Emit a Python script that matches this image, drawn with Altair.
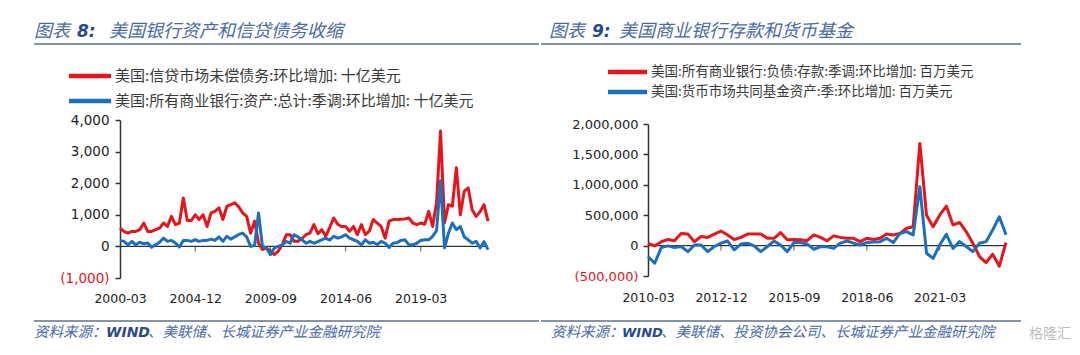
import altair as alt
import pandas as pd

# ---------------- data ----------------
# Left: quarterly, 2000-03 .. 2023-06 (billion USD, QoQ change)
left_red = [580, 475, 420, 475, 475, 530, 740, 475, 475, 530,
            580, 740, 630, 950, 690, 740, 1530, 820, 820, 1000,
            850, 1000, 630, 1060, 1110, 1220, 850, 1270, 1320, 1380,
            1250, 1060, 950, 420, 800, 100, -100, -50, -150, -260,
            -150, 50, 370, 370, 160, 160, 250, 370, 420, 690,
            400, 530, 320, 600, 900, 700, 630, 630, 480, 630,
            370, 690, 370, 480, 850, 740, 630, 260, 800, 850,
            850, 860, 870, 900, 740, 690, 740, 700, 1110, 630,
            1400, 3650, 750, 1320, 1270, 2490, 1000, 1750, 1850, 1160,
            950, 1100, 1320, 800]
left_blue = [190, 160, 50, 160, 50, 130, 85, 105, -30, 50,
             130, 265, 160, 190, 105, -20, 190, 190, 160, 210,
             160, 190, 190, 230, 190, 300, 160, 320, 230, 300,
             380, 420, 300, 0, 30, 1060, 0, -50, -260, -50,
             0, 50, 160, 100, 370, 300, 210, 100, 160, 100,
             150, 210, 260, 200, 320, 260, 300, 370, 260, 210,
             160, 50, 210, 100, 130, 60, 160, 100, -30, 100,
             120, 190, 210, 50, 50, 100, 190, 210, 210, 320,
             500, 2080, -50, 420, 740, 530, 630, 300, 210, 100,
             160, -50, 150, -100]

# Right: quarterly, 2010-03 .. 2023-09 (million USD, QoQ change)
right_red = [38000, -5000, 65000, 100000, 80000, 200000, 190000, 65000, 150000, 135000,
             190000, 240000, 175000, 100000, 135000, 190000, 190000, 190000, 120000, 120000,
             215000, 95000, 100000, 95000, 80000, 175000, 135000, 80000, 160000, 135000,
             120000, 120000, 65000, 120000, 100000, 120000, 190000, 175000, 200000, 285000,
             310000, 1680000, 500000, 310000, 500000, 650000, 340000, 380000, 230000, 40000,
             -180000, -280000, -140000, -340000, 50000]
right_blue = [-180000, -290000, -30000, -5000, -30000, -15000, -100000, 10000, 10000, -100000,
              -15000, 40000, 75000, -70000, 25000, 40000, -5000, -100000, -15000, 75000,
              10000, -100000, 50000, 50000, 25000, -60000, -20000, -20000, -45000, 40000,
              75000, 40000, 10000, 50000, 60000, 65000, 120000, 50000, 200000, 230000,
              175000, 970000, -125000, -210000, 10000, 185000, -45000, 65000, -15000, -100000,
              40000, 65000, 255000, 475000, 180000]

left_tick_labels = ["2000-03", "2004-12", "2009-09", "2014-06", "2019-03"]
right_tick_labels = ["2010-03", "2012-12", "2015-09", "2018-06", "2021-03"]
left_y_ticks = [-1000, 0, 1000, 2000, 3000, 4000]
right_y_ticks = [-500000, 0, 500000, 1000000, 1500000, 2000000]

left_title = ["图表", "8:", "美国银行资产和信贷债务收缩"]
right_title = ["图表", "9:", "美国商业银行存款和货币基金"]
left_legend = ["美国:信贷市场未偿债务:环比增加: 十亿美元",
               "美国:所有商业银行:资产:总计:季调:环比增加: 十亿美元"]
right_legend = ["美国:所有商业银行:负债:存款:季调:环比增加: 百万美元",
                "美国:货币市场共同基金资产:季:环比增加: 百万美元"]
left_source = ["资料来源：", "WIND", "、美联储、长城证券产业金融研究院"]
right_source = ["资料来源：", "WIND", "、美联储、投资协会公司、长城证券产业金融研究院"]
watermark = "格隆汇"

# ---------------- styles ----------------
RED = "#e8141b"
BLUE = "#1c6fba"
TITLE_C = "#4b6aa3"
TITLE_DARK = "#2b4a87"
LINE_C = "#5d7090"
AX_C = "#333333"
CJK = "Noto Sans CJK SC"
NUM = "DejaVu Sans"


def qdates(start, n):
    return list(pd.date_range(start, periods=n, freq="3MS").strftime("%Y/%m/%d"))


def dt(label):
    y, m = label.split("-")
    return alt.DateTime(year=int(y), month=int(m), date=1)


def to_date_str(label):
    y, m = label.split("-")
    return f"{y}/{m}/01"


def txt(s, x, y, size, color, font=CJK, style="normal", weight="normal", opacity=1.0):
    return alt.Chart(pd.DataFrame({"t": [s]})).mark_text(
        align="left", baseline="middle", fontSize=size, color=color, font=font,
        fontStyle=style, fontWeight=weight, opacity=opacity
    ).encode(x=alt.value(x), y=alt.value(y), text="t:N")


def hline(x1, x2, y, color, w, opacity=1.0):
    return alt.Chart(pd.DataFrame({"a": [0]})).mark_rule(
        color=color, strokeWidth=w, strokeOpacity=opacity
    ).encode(x=alt.value(x1), x2=alt.value(x2), y=alt.value(y))


def panel(dates, red, blue, ticks, yticks, ydomain, yrange, width, height,
          title, legend, legend_size, lg, source, src, extra=None):
    df = pd.DataFrame({
        "date": dates + dates,
        "v": red + blue,
        "s": ["r"] * len(red) + ["b"] * len(blue),
    })
    xdom = [dt(ticks[0]), alt.DateTime(year=int(dates[-1][:4]), month=int(dates[-1][5:7]), date=1)]
    X = alt.X("date:T", scale=alt.Scale(domain=xdom), axis=alt.Axis(
        values=[dt(t) for t in ticks], format="%Y-%m", domain=False, ticks=False, tickSize=0,
        labelPadding=lg["xpad"], labelFontSize=12.5, labelFont=NUM, labelColor="#222222",
        labelFlush=False, labelOverlap=False, grid=False, title=None))
    if yrange is not None:
        yscale = alt.Scale(domain=ydomain, nice=False, zero=False, range=yrange)
    else:
        yscale = alt.Scale(domain=ydomain, nice=False, zero=False)
    Y = alt.Y("v:Q", scale=yscale, axis=alt.Axis(
        values=yticks, grid=False, title=None, domainColor=AX_C, domainWidth=1.5,
        tickColor=AX_C, tickWidth=1.5, tickSize=5, labelPadding=lg["ypad"],
        labelFontSize=lg["ysize"], labelFont=NUM,
        labelColor=alt.condition("datum.value < 0", alt.value(RED), alt.value("#222222")),
        labelExpr="datum.value < 0 ? '(' + format(-datum.value, ',') + ')' : format(datum.value, ',')"))

    base = alt.Chart(df)
    red_line = base.transform_filter("datum.s == 'r'").mark_line(
        color=RED, strokeWidth=3, strokeJoin="round").encode(x=X, y=Y)
    blue_line = base.transform_filter("datum.s == 'b'").mark_line(
        color=BLUE, strokeWidth=3, strokeJoin="round").encode(x=X, y=Y)

    zero = alt.Chart(pd.DataFrame({"v": [0]})).mark_rule(color=AX_C, strokeWidth=1.2).encode(y=Y)
    tdf = pd.DataFrame({"date": [to_date_str(t) for t in ticks[1:]], "v": [0] * (len(ticks) - 1)})
    tick_marks = alt.Chart(tdf).mark_tick(color=AX_C, thickness=1.2, size=5, orient="vertical",
                                          yOffset=2.5).encode(x=X, y=Y)

    t = lg
    layers = []
    if extra is not None:
        layers += extra
    layers += [
        txt(title[0], t["t0"], -88, 18, TITLE_C, style="italic"),
        txt(title[1], t["t1"], -88, 17, TITLE_DARK, font=NUM, style="italic", weight="bold"),
        txt(title[2], t["t2"], -88, 18, TITLE_C, style="italic"),
        hline(t["ul0"], t["ul1"], -76, LINE_C, 1.5),
        hline(t["lx0"], t["lx1"], t["ly0"], RED, 4.5),
        hline(t["lx0"], t["lx1"], t["ly1"], BLUE, 4.5),
        txt(legend[0], t["ltx"], t["ly0"], legend_size, "#3a3a3a"),
        txt(legend[1], t["ltx"], t["ly1"], legend_size, "#3a3a3a"),
        hline(t["ul0"], t["ul1"], 201, LINE_C, 1.5),
        txt(source[0], src[0], 213, 14.5, TITLE_C, style="italic"),
        txt(source[1], src[1], 213, src[3], TITLE_DARK, font=NUM, style="italic", weight="bold"),
        txt(source[2], src[2], 213, 14.5, TITLE_C, style="italic"),
        zero, tick_marks, red_line, blue_line,
    ]
    return alt.layer(*layers).properties(width=width, height=height)


left_dates = qdates("2000-03-01", len(left_red))
right_dates = qdates("2010-03-01", len(right_red))

frame = hline(-111, -110, -111, "#ffffff", 1, opacity=0)

left = panel(left_dates, left_red, left_blue, left_tick_labels, left_y_ticks,
             [-1000, 4000], None, 368, 158, left_title, left_legend, 15,
             dict(t0=-86, t1=-43, t2=-11, ul0=-86, ul1=419, lx0=-51, lx1=-9, ly0=-44, ly1=-19,
                  ltx=-5, xpad=14, ypad=6, ysize=13.5),
             left_source, [-86, -14, 28, 14], extra=[frame])

right = panel(right_dates, right_red, right_blue, right_tick_labels, right_y_ticks,
              [-500000, 2000000], [156, 4], 358, 158, right_title, right_legend, 13.5,
              dict(t0=-99, t1=-56, t2=-29, ul0=-107, ul1=373, lx0=-40, lx1=-1, ly0=-48, ly1=-28,
                   ltx=3, xpad=13, ypad=5, ysize=13),
              right_source, [-97, -26, 13, 13],
              extra=[txt(watermark, 381, 214, 14, "#bdbdbd")])

chart = alt.hconcat(left, right, spacing=160, bounds="flush").properties(padding=0).configure_view(
    stroke="transparent").configure_axis(grid=False)

chart.save("out.html", embed_options={"renderer": "svg", "actions": False})
